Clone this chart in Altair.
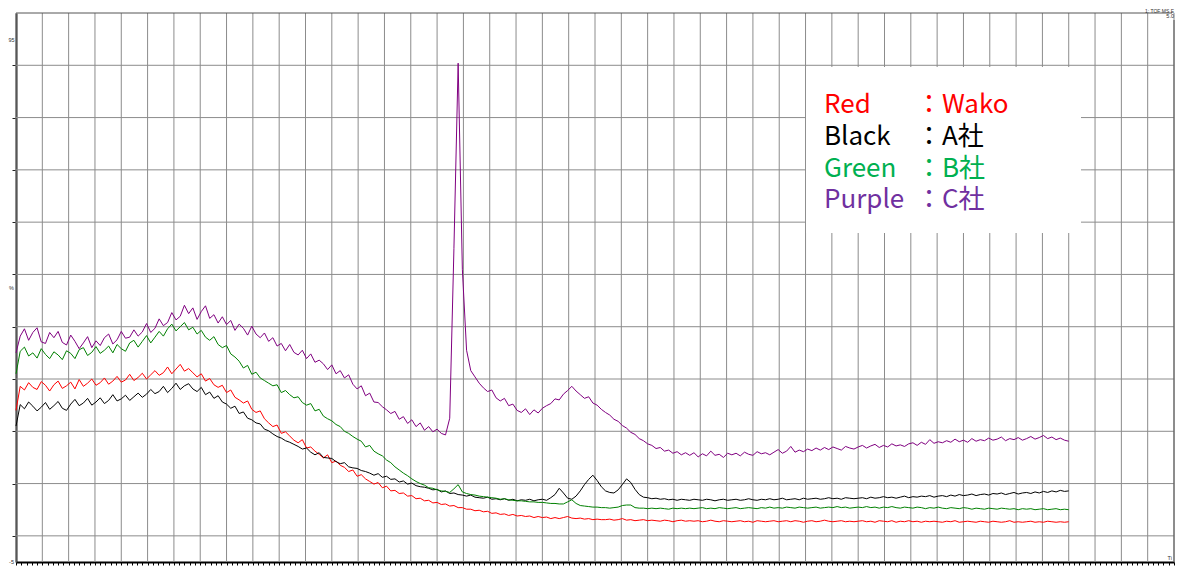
import altair as alt
import pandas as pd

# ---------------- data ----------------
STEP = 0.16  # time units between samples (x axis: 0..44, gridline every 1)

series_names = ["Wako", "A社", "B社", "C社"]
line_colors = ["#FF0000", "#000000", "#008000", "#800080"]

red = [
    24.0, 28.6, 27.9, 29.3, 28.4, 28.0, 29.5, 28.8, 27.7, 28.9,
    29.6, 28.2, 28.7, 29.4, 28.1, 29.9, 28.6, 29.2, 30.0, 28.8,
    29.3, 30.2, 29.0, 29.6, 30.5, 29.4, 29.8, 30.9, 29.7, 30.3,
    31.1, 30.0, 30.8, 31.6, 30.7, 31.2, 32.3, 31.0, 31.9, 32.8,
    31.5, 32.0, 31.2, 30.4, 31.0, 29.6, 30.1, 28.9, 28.4, 28.8,
    27.4, 27.9, 26.5, 26.0, 25.4, 25.8, 24.2, 23.6, 23.9, 22.4,
    21.6, 20.9, 21.2, 19.6, 19.9, 19.1, 18.3, 17.8, 18.4, 16.8,
    17.0, 16.2, 15.6, 14.9, 15.5, 14.0, 14.3, 13.5, 13.1, 12.3,
    12.6, 11.4, 11.7, 10.9, 10.4, 9.9, 10.2, 9.2, 9.5, 8.6,
    8.7, 8.1, 8.2, 7.6, 7.7, 7.1, 7.2, 6.7, 6.8, 6.3,
    6.4, 6.0, 6.1, 5.7, 5.8, 5.4, 5.4, 5.1, 5.1, 4.8,
    4.9, 4.6, 4.7, 4.3, 4.4, 4.1, 4.2, 3.9, 4.1, 3.8,
    3.9, 3.7, 3.8, 3.5, 3.7, 3.5, 3.6, 3.3, 3.5, 3.3,
    3.5, 3.7, 3.4, 3.3, 3.4, 3.2, 3.3, 3.1, 3.2, 3.1,
    3.1, 3.2, 3.0, 3.1, 3.3, 3.0, 3.1, 2.9, 3.0, 3.1,
    2.9, 3.0, 2.9, 2.8, 3.0, 2.9, 2.7, 2.9, 3.0, 2.8,
    2.9, 2.8, 2.9, 2.7, 2.8, 3.0, 2.8, 2.7, 2.9, 2.8,
    2.7, 2.8, 2.9, 2.7, 2.8, 2.6, 2.9, 2.8, 2.7, 2.8,
    2.9, 2.7, 2.8, 2.9, 2.7, 2.9, 2.8, 2.6, 2.8, 2.9,
    2.7, 2.8, 3.0, 2.8, 2.7, 2.8, 2.9, 2.7, 2.8, 2.7,
    2.8, 2.9, 2.7, 2.8, 2.6, 2.9, 2.8, 2.7, 2.9, 2.6,
    2.8, 2.7, 2.9, 2.7, 2.8, 2.6, 2.8, 2.7, 2.8, 2.7,
    2.6, 2.8, 2.7, 2.9, 2.6, 2.7, 2.8, 2.7, 2.6, 2.8,
    2.7, 2.6, 2.8, 2.7, 2.6, 2.7, 2.9, 2.6, 2.7, 2.6,
    2.7, 2.8, 2.6, 2.7, 2.6, 2.8, 2.7, 2.6, 2.7, 2.6,
    2.7,
]

black = [
    21.0, 25.1, 24.3, 25.6, 24.8, 23.9, 24.6, 25.5, 24.2, 24.9,
    25.7, 24.4, 24.0, 25.2, 26.1, 24.9, 25.4, 26.3, 25.0, 25.6,
    26.4, 25.3, 25.9, 27.0, 25.8, 26.2, 26.9, 25.9, 26.6, 27.3,
    26.5, 27.1, 28.0, 27.2, 27.6, 28.6, 27.4, 28.2, 29.2, 28.0,
    28.7, 29.1, 28.1, 27.6, 28.4, 27.0, 27.5, 26.3, 26.8, 25.6,
    25.2, 24.4, 24.8, 23.4, 23.7, 22.5, 22.2, 21.6, 21.4, 20.4,
    20.1, 19.5, 19.0, 18.7, 18.2, 17.9, 17.5, 17.1, 16.6, 16.8,
    16.0, 15.5, 15.9, 15.0, 14.9, 14.8, 14.2, 13.8, 14.0, 13.2,
    13.0, 12.9, 12.5, 12.3, 12.0, 11.6, 11.9, 11.2, 11.4, 10.8,
    10.9, 10.3, 10.5, 9.9, 10.1, 9.6, 9.4, 9.3, 9.1, 8.8,
    8.9, 8.4, 8.6, 8.1, 8.2, 7.9, 7.8, 7.6, 7.8, 7.4,
    7.3, 7.2, 7.4, 7.0, 7.1, 6.9, 7.1, 6.8, 7.0, 6.7,
    6.9, 6.8, 7.0, 6.7, 6.9, 7.0, 6.8, 7.3, 7.9, 9.1,
    8.2, 7.2, 7.0, 7.6, 8.6, 9.8, 10.8, 11.6, 10.6, 9.4,
    8.6, 8.3, 8.2, 8.8, 9.8, 10.9, 10.2, 8.9, 7.9, 7.4,
    7.3, 7.1, 7.2, 7.0, 7.1, 6.9, 7.0, 6.8, 7.0, 6.9,
    6.8, 7.0, 6.9, 6.8, 7.0, 6.9, 6.7, 6.9, 7.0, 6.8,
    6.9, 7.0, 6.8, 6.9, 7.1, 6.9, 6.8, 7.0, 6.9, 7.1,
    6.9, 7.0, 7.2, 6.9, 7.0, 7.1, 6.9, 7.2, 7.0, 7.1,
    7.2, 7.0, 7.1, 7.3, 7.1, 7.2, 7.0, 7.3, 7.2, 7.1,
    7.2, 7.3, 7.1, 7.4, 7.2, 7.3, 7.5, 7.3, 7.4, 7.2,
    7.4, 7.6, 7.3, 7.5, 7.4, 7.6, 7.5, 7.7, 7.4, 7.6,
    7.7, 7.5, 7.8, 7.6, 7.9, 7.7, 7.8, 8.0, 7.7, 7.9,
    8.0, 7.8, 8.1, 8.0, 8.2, 7.9, 8.1, 8.3, 8.0, 8.2,
    8.3, 8.1, 8.4, 8.2, 8.5, 8.3, 8.6, 8.4, 8.7, 8.5,
    8.6,
]

green = [
    31.0, 35.3, 36.1, 34.4, 35.0, 34.0, 35.8, 34.7, 33.9, 35.2,
    34.6, 33.7, 35.4, 34.9, 33.9, 35.6, 36.0, 34.5, 35.1, 36.2,
    34.9, 35.5, 36.3, 35.0, 36.6, 35.8, 35.3, 36.9, 37.4, 36.1,
    37.2, 38.3, 36.9, 38.0, 39.1, 38.2, 39.6, 40.5, 39.2, 40.0,
    40.8, 39.4, 39.9, 38.6, 39.3, 38.0, 37.4, 38.1, 36.6, 36.0,
    36.4, 34.8, 34.2, 33.4, 32.1, 32.6, 30.9, 31.3, 30.2, 29.7,
    29.2, 28.7, 28.9, 27.4, 27.8, 27.0, 26.4, 26.6, 25.5, 25.0,
    25.3, 23.9, 24.2, 22.9, 22.4, 22.0, 21.3, 20.9, 20.0, 19.6,
    19.0, 18.5, 18.1, 17.0, 17.3, 16.2, 15.7, 15.3, 14.5, 14.0,
    13.2, 12.6, 12.0, 11.5, 10.9, 10.4, 10.0, 9.7, 9.2, 9.1,
    8.8, 8.6, 8.5, 8.3, 9.0, 9.8, 8.4, 8.1, 7.9, 7.8,
    7.6, 7.5, 7.4, 7.3, 7.2, 7.0, 7.1, 6.9, 6.8, 6.7,
    6.7, 6.6, 6.5, 6.5, 6.4, 6.4, 6.3, 6.2, 6.2, 6.1,
    6.1, 6.5, 6.9, 6.2, 5.8, 5.7, 5.6, 5.5, 5.5, 5.4,
    5.4, 5.3, 5.4, 5.5, 5.8, 5.9, 5.9, 5.4, 5.3, 5.3,
    5.2, 5.3, 5.2, 5.3, 5.2, 5.1, 5.3, 5.2, 5.3, 5.2,
    5.3, 5.2, 5.3, 5.4, 5.2, 5.3, 5.2, 5.4, 5.3, 5.2,
    5.3, 5.4, 5.2, 5.3, 5.4, 5.3, 5.2, 5.4, 5.3, 5.5,
    5.3, 5.4, 5.3, 5.5, 5.4, 5.3, 5.5, 5.4, 5.3, 5.4,
    5.5, 5.3, 5.4, 5.5, 5.4, 5.6, 5.4, 5.5, 5.3, 5.4,
    5.5, 5.4, 5.6, 5.4, 5.5, 5.3, 5.5, 5.4, 5.6, 5.4,
    5.3, 5.5, 5.4, 5.3, 5.5, 5.4, 5.2, 5.4, 5.3, 5.5,
    5.3, 5.2, 5.4, 5.3, 5.2, 5.4, 5.3, 5.1, 5.3, 5.2,
    5.1, 5.3, 5.2, 5.1, 5.3, 5.2, 5.1, 5.2, 5.0, 5.2,
    5.1, 5.2, 5.0, 5.1, 5.2, 5.0, 5.1, 5.2, 5.0, 5.1,
    5.0,
]

purple = [
    35.0, 38.2, 39.6, 37.4, 38.9, 39.8, 37.1, 36.8, 38.9, 37.9,
    39.1, 37.0, 36.5, 38.4, 37.2, 35.8, 36.9, 38.1, 36.0, 37.3,
    36.4, 37.9, 38.6, 36.7, 37.5, 39.1, 37.8, 38.0, 39.4, 38.2,
    39.0, 40.6, 38.9, 39.7, 41.5, 40.2, 40.8, 42.7, 41.3, 42.0,
    44.1, 42.5, 43.6, 41.4, 42.9, 44.0, 41.6, 42.3, 40.7, 41.9,
    40.4, 41.2, 39.3, 40.5, 39.7, 38.4, 40.1, 38.6, 37.9, 38.8,
    37.2, 37.9, 36.3, 36.8, 35.4, 36.6, 35.1, 34.6, 35.5, 33.9,
    34.8, 33.2, 33.6, 32.9, 31.8, 32.7, 31.0, 31.6, 30.2, 30.8,
    29.0, 28.1, 28.7, 26.8, 27.3, 25.6, 25.5, 24.7, 24.1, 23.4,
    23.8, 22.3, 22.8, 21.5, 22.2, 20.9, 21.6, 20.2, 20.9, 19.9,
    20.4, 19.6, 19.3, 22.5, 55.0, 90.4, 51.0, 35.5, 31.6, 30.4,
    29.2, 28.3, 27.6, 27.9, 26.4, 25.8, 26.3, 24.9, 25.2, 24.0,
    23.6, 24.3, 23.2, 24.1, 23.5, 24.4, 24.9, 25.3, 26.2, 26.0,
    27.1, 27.8, 28.6, 27.7, 27.0, 26.3, 26.6, 25.4, 25.0, 24.2,
    23.6, 23.1, 22.3, 21.9, 21.1, 20.6, 19.8, 19.4, 18.6, 18.2,
    17.6, 17.3, 16.7, 16.9, 16.2, 16.4, 15.8, 16.1, 15.5, 15.9,
    15.4, 15.9, 15.1, 15.7, 15.3, 16.2, 15.4, 15.6, 15.0, 15.8,
    15.5, 15.8, 15.3, 16.0, 15.6, 15.4, 16.1, 15.7, 15.9, 15.5,
    16.0, 16.5, 15.8, 16.2, 17.1, 16.0, 16.4, 16.1, 16.6, 16.3,
    16.8, 16.4, 16.9, 16.5, 17.0, 16.7, 16.4, 17.1, 16.8, 16.6,
    17.0, 17.3, 16.8, 17.2, 17.5, 16.9, 17.3, 17.0, 17.6, 17.2,
    17.4, 17.1, 17.6, 17.8, 17.3, 17.9, 17.5, 18.4, 17.7, 18.0,
    17.8, 18.2, 17.9, 18.5, 18.0, 18.3, 17.9, 18.6, 18.1, 18.4,
    18.2, 18.7, 18.3, 18.5, 18.9, 18.2, 18.6, 18.4, 18.8, 18.3,
    18.6, 19.0, 18.5, 18.8, 19.2, 18.6, 18.9, 18.4, 18.7, 18.3,
    18.1,
]

legend_left = ["Red", "Black", "Green", "Purple"]
legend_right = ["：Wako", "：A社", "：B社", "：C社"]
legend_colors = ["#FF0000", "#000000", "#00B050", "#7030A0"]

x_grid_values = list(range(0, 45))
y_grid_values = list(range(0, 100, 10))
x_minor_ticks = [round(0.2 * k, 1) for k in range(0, 221)]

# ---------------- build table ----------------
rows = []
for name, vals in zip(series_names, [red, black, green, purple]):
    for i, v in enumerate(vals):
        rows.append({"series": name, "t": round(i * STEP, 3), "v": v, "idx": i})
df = pd.DataFrame(rows)

W, H = 1158, 549
FONT = "Noto Sans CJK JP"

x_scale = alt.Scale(domain=[0, 44], nice=False, zero=False)
y_scale = alt.Scale(domain=[-5, 100], nice=False, zero=False)
x_axis = alt.Axis(values=x_minor_ticks, tickSize=3, tickColor="#000000", tickWidth=1,
                  labels=False, grid=False, domainColor="#000000", domainWidth=2, title=None)
y_axis = alt.Axis(values=y_grid_values, tickSize=4, tickColor="#222222", tickWidth=1,
                  labels=False, grid=False, domainColor="#222222", domainWidth=2, title=None)
X = alt.X("t:Q", scale=x_scale, axis=x_axis)
Y = alt.Y("v:Q", scale=y_scale, axis=y_axis)

vgrid = alt.Chart(pd.DataFrame({"t": x_grid_values})).mark_rule(
    color="#8c8c8c", strokeWidth=1
).encode(x=X, y=alt.value(0), y2=alt.value(H))

hgrid = alt.Chart(pd.DataFrame({"v": y_grid_values})).mark_rule(
    color="#8c8c8c", strokeWidth=1
).encode(y=Y, x=alt.value(0), x2=alt.value(W))

top_line = alt.Chart(pd.DataFrame({"a": [0]})).mark_rule(color="#555555", strokeWidth=1).encode(
    x=alt.value(0), x2=alt.value(W - 2), y=alt.value(0)
)
right_line = alt.Chart(pd.DataFrame({"a": [0]})).mark_rule(color="#555555", strokeWidth=1).encode(
    x=alt.value(W), y=alt.value(7), y2=alt.value(H)
)

legend_box = alt.Chart(pd.DataFrame({"a": [0]})).mark_rect(color="white").encode(
    x=alt.value(790), x2=alt.value(1065), y=alt.value(54), y2=alt.value(220)
)

lines = alt.Chart(df).mark_line(strokeWidth=1, interpolate="linear").encode(
    x=X, y=Y,
    color=alt.Color("series:N", scale=alt.Scale(domain=series_names, range=line_colors), legend=None),
    order="idx:Q",
)

layers = [vgrid, hgrid, top_line, right_line, legend_box, lines]

baselines = [100, 132, 163.5, 195]
for i in range(4):
    dl = pd.DataFrame({"label": [legend_left[i]]})
    dr = pd.DataFrame({"label": [legend_right[i]]})
    layers.append(alt.Chart(dl).mark_text(
        font=FONT, fontSize=26, align="left", baseline="alphabetic", color=legend_colors[i]
    ).encode(text="label:N", x=alt.value(808), y=alt.value(baselines[i])))
    layers.append(alt.Chart(dr).mark_text(
        font=FONT, fontSize=26, align="left", baseline="alphabetic", color=legend_colors[i]
    ).encode(text="label:N", x=alt.value(900), y=alt.value(baselines[i])))

small = dict(font="Liberation Sans", color="#333333")
def small_text(txt, x, y, align="right", baseline="middle", size=5.5):
    return alt.Chart(pd.DataFrame({"label": [txt]})).mark_text(
        align=align, baseline=baseline, fontSize=size, **small
    ).encode(text="label:N", x=alt.value(x), y=alt.value(y))

layers += [
    small_text("95", -1.5, 27),
    small_text("%", -2, 275),
    small_text("-5", -2, 549),
    small_text("5.0", 1158, 3, "right"),
    small_text("1: TOF MS E", 1158, 0.5, "right", "bottom", 5),
    small_text("Ti", 1156, 545),
]

chart = alt.layer(*layers).properties(
    width=W, height=H,
    autosize=alt.AutoSizeParams(type="none"),
    padding={"left": 8, "top": 5, "right": 1, "bottom": 4},
    background="white",
).configure_view(stroke=None)

chart.save("out.html", embed_options={"renderer": "svg", "actions": False})
